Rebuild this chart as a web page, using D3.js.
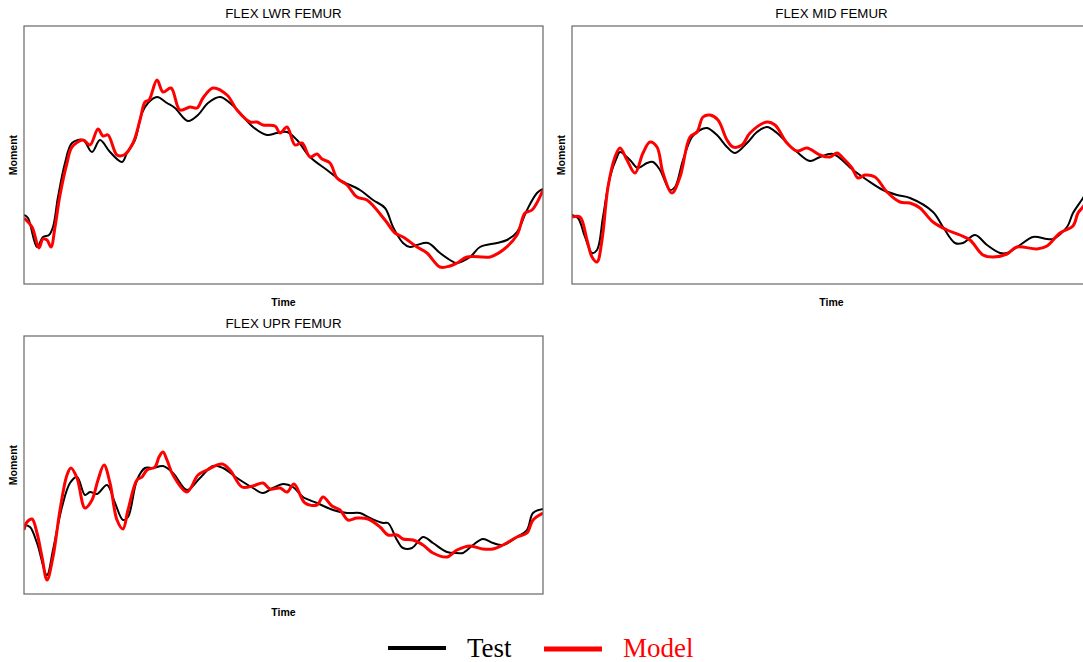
<!DOCTYPE html>
<html>
<head>
<meta charset="utf-8">
<script src="https://cdn.jsdelivr.net/npm/d3@7"></script>
<style>
    body { margin: 0; background: #fff; }
    svg { display: block; }
    .title { font-family: "Liberation Sans", Arial, sans-serif; font-size: 13.3px; fill: #000; }
    .axisLabel { font-family: "Liberation Sans", Arial, sans-serif; font-size: 10.5px; font-weight: bold; fill: #000; }
    .legendText { font-family: "Liberation Serif", "Times New Roman", serif; font-size: 27px; }
</style>
</head>
<body>
<div id="chart"></div>
<script>
'use strict';

// [time, moment] samples (arbitrary units, no ticks shown)
const lwrTest = [[0,69],[4,66],[13,37],[19,47],[25,49],[29,57],[34,87],[41,121],[48,141],[59,144],[68,132],[76,144],[86,132],[98,122],[103,131],[111,144],[118,171],[124,181],[133,187],[143,181],[151,176],[164,163],[174,169],[184,181],[196,187],[206,181],[216,171],[229,157],[243,149],[253,151],[263,152],[273,144],[286,127],[303,114],[316,104],[336,94],[349,84],[361,76],[369,57],[379,41],[386,37],[393,39],[404,41],[416,31],[426,24],[433,21],[446,27],[456,37],[473,41],[483,44],[493,52],[503,74],[513,91],[519,95]];
const lwrModel = [[0,66],[8,57],[15,36],[19,45],[23,44],[27,37],[31,57],[36,89],[43,121],[48,137],[59,144],[66,139],[74,155],[79,148],[84,149],[93,129],[100,129],[109,141],[116,164],[121,182],[125,184],[133,204],[139,192],[147,196],[156,174],[166,177],[173,176],[179,186],[189,196],[203,189],[213,174],[226,162],[233,162],[239,159],[251,158],[256,151],[263,157],[271,139],[278,141],[286,127],[293,130],[298,125],[306,121],[313,106],[323,99],[333,87],[343,84],[361,64],[371,51],[379,47],[393,37],[403,31],[416,17],[426,18],[433,21],[443,27],[459,27],[466,27],[479,34],[493,49],[501,71],[508,74],[519,94]];

const midTest = [[0,69],[6,66],[13,47],[20,31],[25,34],[31,67],[38,107],[45,127],[48,132],[58,124],[66,116],[75,121],[81,122],[88,114],[98,94],[103,97],[111,124],[120,147],[128,154],[135,156],[145,149],[155,137],[163,131],[175,141],[185,152],[195,157],[205,151],[215,141],[225,132],[238,123],[248,127],[261,130],[281,114],[295,104],[311,94],[325,89],[338,86],[361,72],[371,57],[383,41],[391,41],[403,49],[415,39],[428,31],[435,31],[448,39],[461,47],[475,45],[481,45],[495,57],[501,71],[511,86],[519,100]];
const midModel = [[0,67],[8,67],[15,44],[20,27],[25,22],[30,44],[36,97],[43,127],[48,136],[55,124],[63,111],[71,131],[78,142],[85,137],[91,111],[100,91],[108,107],[118,147],[125,152],[131,167],[138,169],[146,164],[155,144],[161,137],[170,139],[178,151],[195,162],[203,159],[215,141],[225,133],[235,136],[248,129],[258,127],[265,131],[271,126],[280,116],[286,106],[293,109],[303,107],[315,92],[328,82],[338,81],[348,76],[361,62],[375,54],[388,49],[398,44],[411,29],[421,27],[435,30],[445,37],[465,35],[475,38],[488,51],[501,58],[506,71],[511,77],[519,88]];

const uprTest = [[0,69],[6,67],[13,51],[23,19],[29,44],[38,87],[46,111],[53,117],[61,99],[66,102],[73,100],[83,109],[91,91],[99,74],[104,77],[113,114],[121,126],[129,126],[139,128],[149,121],[163,104],[176,116],[189,128],[199,126],[213,116],[229,106],[239,101],[249,106],[259,110],[269,107],[279,97],[293,91],[309,84],[323,81],[336,81],[346,76],[359,71],[364,71],[373,54],[379,46],[388,46],[399,57],[409,51],[423,42],[433,41],[439,41],[449,49],[459,55],[469,51],[479,49],[493,57],[503,64],[509,81],[519,85]];
const uprModel = [[0,64],[3,72],[8,75],[13,61],[18,37],[23,14],[29,37],[36,84],[43,119],[47,126],[53,116],[61,86],[68,94],[74,114],[80,129],[86,111],[93,74],[99,65],[104,84],[113,114],[118,117],[123,124],[131,127],[135,137],[139,142],[143,134],[149,119],[163,102],[174,119],[183,124],[198,130],[206,124],[218,107],[229,108],[239,111],[246,105],[256,106],[263,102],[270,110],[281,91],[293,89],[299,97],[308,88],[316,84],[324,74],[333,76],[344,75],[356,67],[364,59],[373,59],[379,55],[389,54],[399,49],[409,41],[423,37],[433,44],[446,48],[459,45],[469,45],[479,49],[493,57],[503,61],[509,74],[519,81]];

const panelTitles = ['FLEX LWR FEMUR', 'FLEX MID FEMUR', 'FLEX UPR FEMUR'];
const seriesNames = ['Test', 'Model'];
const timeDomain = [0, 519];
const momentDomain = [0, 258];

const conf = {
    width: 1083,
    height: 662,
    panelWidth: 519,
    panelHeight: 258,
    colors: {Test: '#000', Model: '#f00'},
    strokes: {Test: 2, Model: 3}
};

const panels = [
    {title: panelTitles[0], left: 24, top: 26, series: {Test: lwrTest, Model: lwrModel}},
    {title: panelTitles[1], left: 572, top: 26, series: {Test: midTest, Model: midModel}},
    {title: panelTitles[2], left: 24, top: 336, series: {Test: uprTest, Model: uprModel}}
];

const svg = d3.select('#chart').append('svg')
    .attr('width', conf.width)
    .attr('height', conf.height);

const x = d3.scaleLinear().domain(timeDomain).range([0, conf.panelWidth]);
const y = d3.scaleLinear().domain(momentDomain).range([conf.panelHeight, 0]);
const line = d3.line()
    .x(function(d) { return x(d[0]); })
    .y(function(d) { return y(d[1]); })
    .curve(d3.curveCatmullRom.alpha(0.5));

panels.forEach(function(p, i) {
    let g = svg.append('g').attr('transform', `translate(${p.left},${p.top})`);

    g.append('clipPath').attr('id', 'clip' + i)
        .append('rect').attr('width', conf.panelWidth).attr('height', conf.panelHeight);

    seriesNames.forEach(function(name) {
        g.append('path')
            .datum(p.series[name])
            .attr('clip-path', `url(#clip${i})`)
            .attr('fill', 'none')
            .attr('stroke', conf.colors[name])
            .attr('stroke-width', conf.strokes[name])
            .attr('stroke-linejoin', 'round')
            .attr('d', line);
    });

    // frame drawn last so it sits over the traces
    g.append('rect')
        .attr('width', conf.panelWidth)
        .attr('height', conf.panelHeight)
        .attr('fill', 'none')
        .attr('stroke', '#666')
        .attr('stroke-width', 1.2);

    g.append('text').attr('class', 'title')
        .attr('x', conf.panelWidth / 2).attr('y', -8)
        .attr('text-anchor', 'middle')
        .text(p.title);

    g.append('text').attr('class', 'axisLabel')
        .attr('x', conf.panelWidth / 2).attr('y', conf.panelHeight + 22)
        .attr('text-anchor', 'middle')
        .text('Time');

    g.append('text').attr('class', 'axisLabel')
        .attr('transform', `translate(-7,${conf.panelHeight / 2}) rotate(-90)`)
        .attr('text-anchor', 'middle')
        .text('Moment');
});

// legend
let legend = svg.append('g').attr('transform', 'translate(388,648)');
let legendItems = [
    {name: seriesNames[0], x: 0, textX: 79, lw: 4},
    {name: seriesNames[1], x: 156, textX: 235, lw: 5}
];
legendItems.forEach(function(item) {
    legend.append('line')
        .attr('x1', item.x).attr('x2', item.x + 58)
        .attr('y1', item.name === 'Model' ? 1 : 0).attr('y2', item.name === 'Model' ? 1 : 0)
        .attr('stroke', conf.colors[item.name])
        .attr('stroke-width', item.lw);
    legend.append('text').attr('class', 'legendText')
        .attr('x', item.textX).attr('y', 9)
        .attr('fill', conf.colors[item.name])
        .text(item.name);
});
</script>
</body>
</html>
